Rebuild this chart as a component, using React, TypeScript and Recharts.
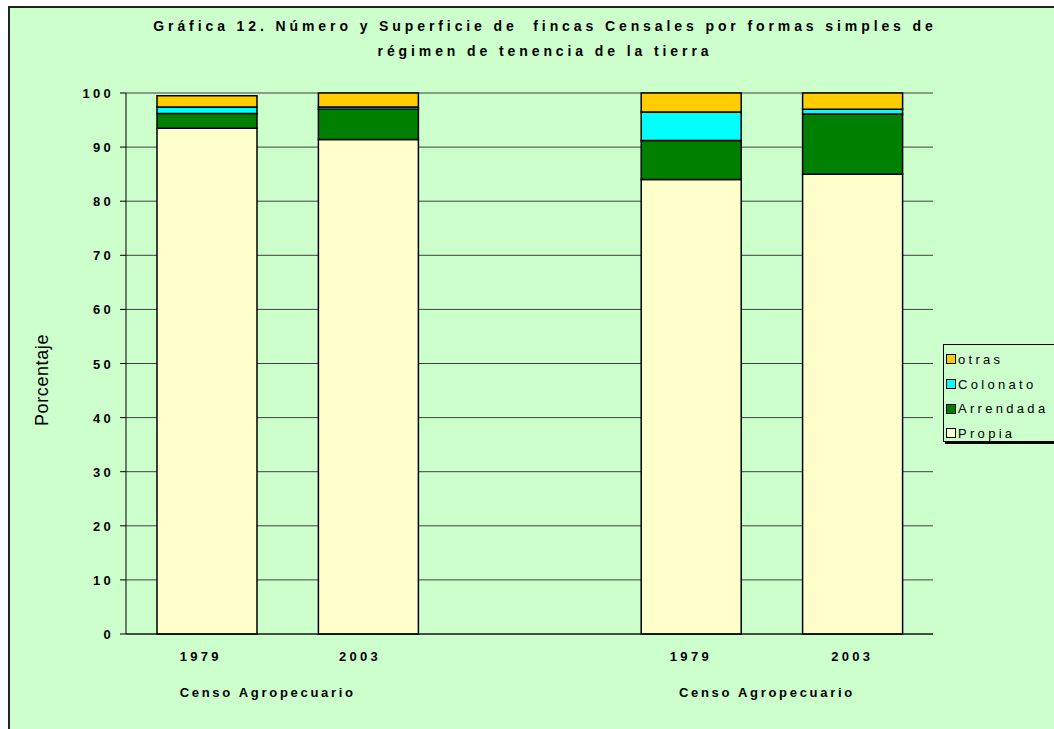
import React from "react";
import { BarChart, Bar, XAxis, YAxis, CartesianGrid } from "recharts";

const categories = ["1979", "2003", "", "1979", "2003"];
const propia = [93.5, 91.4, null, 84.0, 85.0];
const arrendada = [2.7, 5.6, null, 7.2, 11.1];
const colonato = [1.2, 0.4, null, 5.3, 0.9];
const otras = [2.1, 2.6, null, 3.5, 3.0];
const groupLabels = ["Censo Agropecuario", "", "", "Censo Agropecuario", ""];
const yTicks = [0, 10, 20, 30, 40, 50, 60, 70, 80, 90, 100];
const titleLines = [
  "Gráfica 12. Número y Superficie de  fincas Censales por formas simples de",
  "régimen de tenencia de la tierra",
];
const yLabel = "Porcentaje";

const series = [
  { key: "Propia", color: "#FFFFCC", values: propia },
  { key: "Arrendada", color: "#008000", values: arrendada },
  { key: "Colonato", color: "#00FFFF", values: colonato },
  { key: "otras", color: "#FFCC00", values: otras },
];

const data = categories.map((c, i) => {
  const row: any = { id: "c" + i, label: c };
  series.forEach((s) => {
    row[s.key] = s.values[i];
  });
  return row;
});

const FONT = "'Liberation Sans', Arial, sans-serif";
const BG = "#CCFFCC";

const XTick = (props: any) => {
  const { x, y, payload } = props;
  const idx = categories.findIndex((_, i) => "c" + i === payload.value);
  const label = categories[idx] || "";
  const group = groupLabels[idx] || "";
  const groupShift = idx === 0 ? 61 : 76;
  const labelShift = idx === 0 ? -6 : idx === 1 ? -8 : 0;
  return (
    <g>
      <text
        x={x + labelShift}
        y={y}
        dy={19}
        textAnchor="middle"
        fontFamily={FONT}
        fontWeight="bold"
        fontSize={13}
        letterSpacing={3.3}
        fill="#000"
      >
        {label}
      </text>
      {group ? (
        <text
          x={x + groupShift}
          y={y}
          dy={55}
          textAnchor="middle"
          fontFamily={FONT}
          fontWeight="bold"
          fontSize={13}
          letterSpacing={2.7}
          fill="#000"
        >
          {group}
        </text>
      ) : null}
    </g>
  );
};

const YTick = (props: any) => {
  const { x, y, payload } = props;
  return (
    <text
      x={x}
      y={y}
      dy={5}
      textAnchor="end"
      fontFamily={FONT}
      fontWeight="bold"
      fontSize={13}
      letterSpacing={3.3}
      fill="#000"
    >
      {payload.value}
    </text>
  );
};

export default function App() {
  return (
    <div
      style={{
        position: "fixed",
        left: 8,
        top: 6,
        right: 0,
        bottom: 0,
        background: BG,
        overflow: "hidden",
        fontFamily: FONT,
      }}
    >
      <BarChart
        width={1046}
        height={723}
        data={data}
        margin={{ top: 87, right: 121, left: 58, bottom: 65 }}
      >
        <CartesianGrid vertical={false} stroke="#404040" strokeWidth={1} />
        <XAxis
          dataKey="id"
          height={30}
          interval={0}
          tickLine={false}
          axisLine={{ stroke: "#000", strokeWidth: 1 }}
          tick={<XTick />}
        />
        <YAxis
          width={60}
          domain={[0, 100]}
          ticks={yTicks}
          interval={0}
          tickSize={6}
          tickMargin={6}
          tickLine={{ stroke: "#000" }}
          axisLine={{ stroke: "#000", strokeWidth: 1 }}
          tick={<YTick />}
        />
        {series.map((s) => (
          <Bar
            key={s.key}
            dataKey={s.key}
            stackId="a"
            fill={s.color}
            stroke="#000"
            strokeWidth={1.5}
            barSize={100}
            isAnimationActive={false}
          />
        ))}
      </BarChart>

      <div
        style={{
          position: "absolute",
          left: 0,
          top: 8,
          width: 1074,
          textAlign: "center",
          fontWeight: "bold",
          fontSize: 14,
          letterSpacing: 3.9,
          lineHeight: "25px",
          color: "#000",
        }}
      >
        {titleLines.map((t, i) => (
          <div key={i} style={{ whiteSpace: "pre" }}>
            {t}
          </div>
        ))}
      </div>

      <div
        style={{
          position: "absolute",
          left: 34 - 70,
          top: 374 - 11,
          width: 140,
          height: 22,
          lineHeight: "22px",
          textAlign: "center",
          fontSize: 18,
          letterSpacing: 0.6,
          transform: "rotate(-90deg)",
          color: "#000",
        }}
      >
        {yLabel}
      </div>

      <div
        style={{
          position: "absolute",
          left: 935,
          top: 338,
          width: 125,
          height: 98,
          border: "1px solid #000",
          boxShadow: "2px 2px 0 #000",
          background: BG,
          paddingTop: 2,
          boxSizing: "border-box",
        }}
      >
        {[...series].reverse().map((s) => (
          <div
            key={s.key}
            style={{
              display: "flex",
              alignItems: "center",
              height: 24.7,
              paddingLeft: 2,
              fontSize: 13,
              letterSpacing: 3.3,
              color: "#000",
            }}
          >
            <span
              style={{
                display: "inline-block",
                width: 8,
                height: 8,
                background: s.color,
                border: "1px solid #000",
                marginRight: 2,
              }}
            />
            {s.key}
          </div>
        ))}
      </div>

      <div
        style={{
          position: "absolute",
          left: 0,
          top: 0,
          right: 0,
          bottom: 0,
          borderTop: "2px solid #222",
          borderLeft: "2px solid #222",
          pointerEvents: "none",
        }}
      />
    </div>
  );
}
